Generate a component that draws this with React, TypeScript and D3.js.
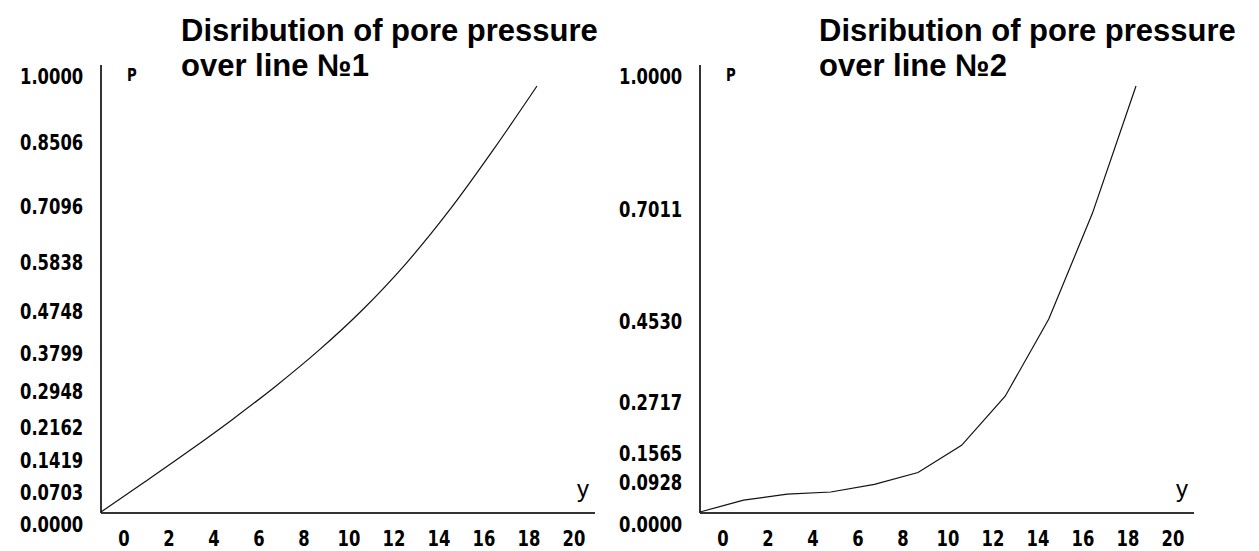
// @ts-nocheck
import React from 'react';
import * as d3 from 'd3';

// distance along the line (y) and pore pressure values
const yPoints = [0, 2, 4, 6, 8, 10, 12, 14, 16, 18, 20];
const pressureLine1 = [0, 0.0703, 0.1419, 0.2162, 0.2948, 0.3799, 0.4748, 0.5838, 0.7096, 0.8506, 1.0];
const pressureLine2 = [0, 0.028, 0.042, 0.047, 0.065, 0.0928, 0.1565, 0.2717, 0.4530, 0.7011, 1.0];

const xTickLabels = [0, 2, 4, 6, 8, 10, 12, 14, 16, 18, 20];
const pTicksLine1 = [1.0, 0.8506, 0.7096, 0.5838, 0.4748, 0.3799, 0.2948, 0.2162, 0.1419, 0.0703, 0.0];
const pTicksLine2 = [1.0, 0.7011, 0.4530, 0.2717, 0.1565, 0.0928, 0.0];

const titles = ['Disribution of pore pressure', 'over line №1', 'over line №2'];

const W = 1259, H = 551;
const tickFont = "'DejaVu Sans', sans-serif";
const titleFont = "'Liberation Sans', Arial, sans-serif";

// narrow bold label, squeezed horizontally like the old bitmap font
const Narrow = ({ x, y, anchor = 'start', size = 21, children }) => (
    <g transform={`translate(${x},${y}) scale(0.78,1)`}>
        <text textAnchor={anchor} fontFamily={tickFont} fontWeight="bold" fontSize={size} fill="#000">
            {children}
        </text>
    </g>
);

function Panel({ left, titleLeft, values, ticks, title2, curve }) {
    // plotting area
    const axisX = left + 101;
    const baseY = 513;
    const x = d3.scaleLinear().domain([0, 20]).range([axisX, axisX + 436]);
    const y = d3.scaleLinear().domain([0, 1]).range([512, 86]);

    // label positions (the old program puts them slightly off the marks)
    const xl = d3.scaleLinear().domain([0, 20]).range([left + 124, left + 574]);
    const yl = d3.scaleLinear().domain([0, 1]).range([524, 76]);

    const line = d3.line()
        .curve(curve)
        .x((d, i) => x(yPoints[i]))
        .y(d => y(d));

    return (
        <g>
            <text x={titleLeft} y={41} fontFamily={titleFont} fontWeight="bold" fontSize={31} fill="#000">{titles[0]}</text>
            <text x={titleLeft} y={76} fontFamily={titleFont} fontWeight="bold" fontSize={31} fill="#000">{title2}</text>

            {/* axes */}
            <line x1={axisX} x2={axisX} y1={65} y2={baseY} stroke="#333" strokeWidth={2} />
            <line x1={axisX} x2={left + 595} y1={baseY} y2={baseY} stroke="#333" strokeWidth={2} />

            <Narrow x={axisX + 26} y={81} size={17}>P</Narrow>
            <text x={left + 583} y={497} textAnchor="middle" fontFamily={titleFont} fontSize={24}>y</text>

            {ticks.map(t => (
                <Narrow key={t} x={left + 20} y={yl(t) + 7.5}>{t.toFixed(4)}</Narrow>
            ))}
            {xTickLabels.map(t => (
                <Narrow key={t} x={xl(t)} y={546} anchor="middle">{t}</Narrow>
            ))}

            <path d={line(values)} fill="none" stroke="#111" strokeWidth={1.2} />
        </g>
    );
}

export default function App() {
    return (
        <svg width={W} height={H} style={{ position: 'absolute', left: 0, top: 0, background: '#fff' }}>
            <rect width={W} height={H} fill="#fff" />
            <Panel left={0} titleLeft={181} values={pressureLine1} ticks={pTicksLine1} title2={titles[1]} curve={d3.curveMonotoneX} />
            <Panel left={599} titleLeft={819} values={pressureLine2} ticks={pTicksLine2} title2={titles[2]} curve={d3.curveLinear} />
        </svg>
    );
}
